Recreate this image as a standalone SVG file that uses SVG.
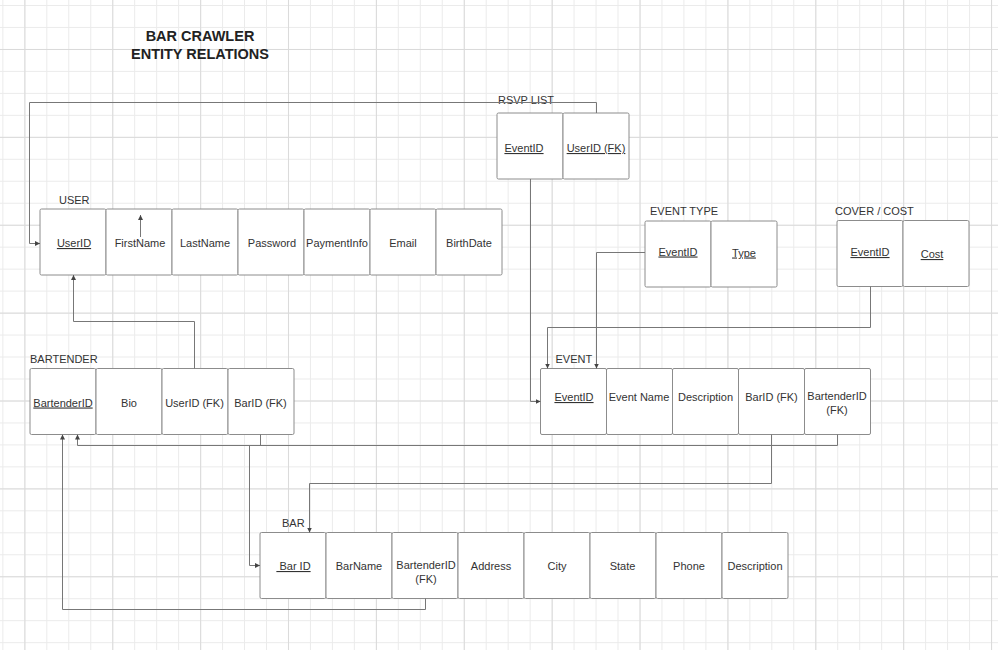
<svg xmlns="http://www.w3.org/2000/svg" width="998" height="650" viewBox="0 0 998 650">
<defs>
<pattern id="gMinor" patternUnits="userSpaceOnUse" x="2.35" y="5" width="21.97" height="21.97">
<path d="M0.5,0 V21.97 M0,0.5 H21.97" fill="none" stroke="#ebebeb" stroke-width="1"/>
</pattern>
<pattern id="gMajor" patternUnits="userSpaceOnUse" x="24.4" y="49" width="87.88" height="87.88">
<path d="M0.5,0 V87.88 M0,0.5 H87.88" fill="none" stroke="#dadada" stroke-width="1"/>
</pattern>
<marker id="arr" viewBox="0 0 6 6" refX="6" refY="3" markerWidth="5" markerHeight="5" orient="auto" markerUnits="userSpaceOnUse">
<path d="M0,0 L6,3 L0,6 z" fill="#444"/>
</marker>
</defs>
<style>
.cell{fill:#ffffff;stroke:#8c8c8c;stroke-width:1}
.t{font-family:"Liberation Sans",Arial,sans-serif;font-size:11px;fill:#333;text-anchor:middle}
.u{text-decoration:underline}
.lbl{font-family:"Liberation Sans",Arial,sans-serif;font-size:11px;fill:#333}
.title{font-family:"Liberation Sans",Arial,sans-serif;font-size:14.5px;font-weight:bold;fill:#222;text-anchor:middle}
.c{fill:none;stroke:#777;stroke-width:1}
</style>
<rect width="998" height="650" fill="#ffffff"/>
<rect width="998" height="650" fill="url(#gMinor)"/>
<rect width="998" height="650" fill="url(#gMajor)"/>

<g id="title">
<text class="title" x="200" y="41">BAR CRAWLER</text>
<text class="title" x="200" y="59">ENTITY RELATIONS</text>
</g>

<g id="rsvp">
<text class="lbl" x="498" y="104">RSVP LIST</text>
<rect class="cell" x="497" y="113" width="66" height="66" rx="1.5"/>
<rect class="cell" x="563" y="113" width="66" height="66" rx="1.5"/>
<text class="t u" x="524" y="152">EventID</text>
<text class="t u" x="596" y="152">UserID (FK)</text>
</g>

<g id="user">
<text class="lbl" x="59" y="204">USER</text>
<rect class="cell" x="40" y="209" width="66" height="66" rx="1.5"/>
<rect class="cell" x="106" y="209" width="66" height="66" rx="1.5"/>
<rect class="cell" x="172" y="209" width="66" height="66" rx="1.5"/>
<rect class="cell" x="238" y="209" width="66" height="66" rx="1.5"/>
<rect class="cell" x="304" y="209" width="66" height="66" rx="1.5"/>
<rect class="cell" x="370" y="209" width="66" height="66" rx="1.5"/>
<rect class="cell" x="436" y="209" width="66" height="66" rx="1.5"/>
<text class="t u" x="74" y="247">UserID</text>
<text class="t" x="140" y="247">FirstName</text>
<text class="t" x="205" y="247">LastName</text>
<text class="t" x="272" y="247">Password</text>
<text class="t" x="337" y="247">PaymentInfo</text>
<text class="t" x="403" y="247">Email</text>
<text class="t" x="469" y="247">BirthDate</text>
</g>

<g id="eventtype">
<text class="lbl" x="650" y="215">EVENT TYPE</text>
<rect class="cell" x="645" y="221" width="66" height="66" rx="1.5"/>
<rect class="cell" x="711" y="221" width="66" height="66" rx="1.5"/>
<text class="t u" x="678" y="255.5">EventID</text>
<text class="t u" x="744" y="256.5">Type</text>
</g>

<g id="cover">
<text class="lbl" x="835" y="215">COVER / COST</text>
<rect class="cell" x="837" y="220.5" width="66" height="66" rx="1.5"/>
<rect class="cell" x="903" y="220.5" width="66" height="66" rx="1.5"/>
<text class="t u" x="870" y="256">EventID</text>
<text class="t u" x="932" y="258">Cost</text>
</g>

<g id="bartender">
<text class="lbl" x="30" y="363">BARTENDER</text>
<rect class="cell" x="30" y="368.5" width="66" height="66" rx="1.5"/>
<rect class="cell" x="96" y="368.5" width="66" height="66" rx="1.5"/>
<rect class="cell" x="162" y="368.5" width="66" height="66" rx="1.5"/>
<rect class="cell" x="228" y="368.5" width="66" height="66" rx="1.5"/>
<text class="t u" x="63" y="406.5">BartenderID</text>
<text class="t" x="129" y="406.5">Bio</text>
<text class="t" x="194.5" y="406.5">UserID (FK)</text>
<text class="t" x="260.5" y="406.5">BarID (FK)</text>
</g>

<g id="event">
<text class="lbl" x="555.5" y="363">EVENT</text>
<rect class="cell" x="540.5" y="368.5" width="66" height="66" rx="1.5"/>
<rect class="cell" x="606.5" y="368.5" width="66" height="66" rx="1.5"/>
<rect class="cell" x="672.5" y="368.5" width="66" height="66" rx="1.5"/>
<rect class="cell" x="738.5" y="368.5" width="66" height="66" rx="1.5"/>
<rect class="cell" x="804.5" y="368.5" width="66" height="66" rx="1.5"/>
<text class="t u" x="574" y="401">EventID</text>
<text class="t" x="639" y="401">Event Name</text>
<text class="t" x="705.5" y="401">Description</text>
<text class="t" x="771.5" y="401">BarID (FK)</text>
<text class="t" x="837" y="400">BartenderID</text>
<text class="t" x="837" y="413.5">(FK)</text>
</g>

<g id="bar">
<text class="lbl" x="282" y="527">BAR</text>
<rect class="cell" x="260" y="532.5" width="66" height="66" rx="1.5"/>
<rect class="cell" x="326" y="532.5" width="66" height="66" rx="1.5"/>
<rect class="cell" x="392" y="532.5" width="66" height="66" rx="1.5"/>
<rect class="cell" x="458" y="532.5" width="66" height="66" rx="1.5"/>
<rect class="cell" x="524" y="532.5" width="66" height="66" rx="1.5"/>
<rect class="cell" x="590" y="532.5" width="66" height="66" rx="1.5"/>
<rect class="cell" x="656" y="532.5" width="66" height="66" rx="1.5"/>
<rect class="cell" x="722" y="532.5" width="66" height="66" rx="1.5"/>
<text class="t u" x="293.5" y="570" xml:space="preserve"> Bar ID</text>
<text class="t" x="359" y="570">BarName</text>
<text class="t" x="426" y="569">BartenderID</text>
<text class="t" x="426" y="582.5">(FK)</text>
<text class="t" x="491" y="570">Address</text>
<text class="t" x="557" y="570">City</text>
<text class="t" x="622.5" y="570">State</text>
<text class="t" x="689" y="570">Phone</text>
<text class="t" x="755" y="570">Description</text>
</g>

<g id="connectors">
<path class="c" d="M596.5,113 V102.5 H29.5 V243.5 H40" marker-end="url(#arr)"/>
<path class="c" d="M530.5,179 V401.5 H540.5" marker-end="url(#arr)"/>
<path class="c" d="M194.5,368.5 V321.5 H73.5 V275" marker-end="url(#arr)"/>
<path class="c" d="M140.5,237 V215" marker-end="url(#arr)"/>
<path class="c" d="M645,252.5 H596.5 V368.5" marker-end="url(#arr)"/>
<path class="c" d="M870.5,286.5 V327.5 H547.5 V368.5" marker-end="url(#arr)"/>
<path class="c" d="M837.5,434.5 V445.5 H77.5 V434.5" marker-end="url(#arr)"/>
<path class="c" d="M260.5,434.5 V445.5 H249.5 V565.5 H260" marker-end="url(#arr)"/>
<path class="c" d="M771.5,434.5 V483.5 H309.5 V532.5" marker-end="url(#arr)"/>
<path class="c" d="M425.5,598.5 V609.5 H62.5 V434.5" marker-end="url(#arr)"/>
</g>
</svg>
